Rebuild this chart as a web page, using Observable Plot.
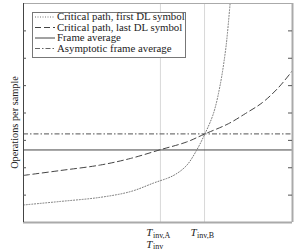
<!DOCTYPE html>
<html>
<head>
<meta charset="utf-8">
<script src="https://cdn.jsdelivr.net/npm/d3@7"></script>
<script src="https://cdn.jsdelivr.net/npm/@observablehq/plot@0.6"></script>
<style>
  html, body { margin: 0; padding: 0; background: #fff; }
  #chart { position: relative; width: 306px; height: 250px; }
</style>
</head>
<body>
<div id="chart"></div>
<script>
// ---- data ----
const xDomain = [0, 10];
const yDomain = [0, 8];
const yTicks = [1, 2, 3, 4, 5, 6, 7];

const firstX = [0, 1.38, 2.86, 3.98, 4.83, 5.58, 6.06, 6.43, 6.73, 7.06, 7.32, 7.51, 7.58, 7.68, 7.72];
const firstY = [0.64, 0.77, 0.92, 1.13, 1.44, 1.72, 2.08, 2.63, 3.21, 3.98, 5.07, 6.28, 6.90, 7.99, 8.4];

const lastX = [0, 1.38, 2.86, 3.98, 5.09, 6.06, 6.73, 7.62, 8.25, 8.88, 9.48, 10];
const lastY = [1.72, 1.90, 2.10, 2.34, 2.66, 2.94, 3.23, 3.61, 3.98, 4.38, 4.93, 5.55];

const frameAverage = 2.65;
const asymptoticAverage = 3.24;

const tInvA = 5.09;
const tInvB = 6.73;
const xLabels = [
  {x: tInvA, main: "T", sub: "inv,A", line: 0},
  {x: tInvB, main: "T", sub: "inv,B", line: 0},
  {x: tInvA, main: "T", sub: "inv", line: 1}
];

const legendItems = [
  {label: "Critical path, first DL symbol", dash: "1,1.5", stroke: "#777"},
  {label: "Critical path, last DL symbol", dash: "6,3", stroke: "#444"},
  {label: "Frame average", dash: null, stroke: "#444"},
  {label: "Asymptotic frame average", dash: "5,2,1.5,2", stroke: "#666"}
];

const first = firstX.map((x, i) => ({x, y: firstY[i]}));
const last = lastX.map((x, i) => ({x, y: lastY[i]}));

const font = "'Liberation Serif', 'Times New Roman', serif";

const plot = Plot.plot({
  width: 306,
  height: 250,
  marginLeft: 23,
  marginRight: 14,
  marginTop: 3,
  marginBottom: 28,
  style: {fontFamily: font, background: "#fff"},
  x: {domain: xDomain, axis: null},
  y: {domain: yDomain, axis: null},
  marks: [
    Plot.ruleX([tInvA, tInvB], {stroke: "#d8d8d8", strokeWidth: 1}),
    Plot.ruleY([asymptoticAverage], {stroke: "#777", strokeWidth: 1.3, strokeDasharray: "5,2,1.5,2"}),
    Plot.ruleY([frameAverage], {stroke: "#444", strokeWidth: 1}),
    Plot.line(last, {x: "x", y: "y", curve: "catmull-rom", stroke: "#444", strokeWidth: 1, strokeDasharray: "6,3.5", clip: true}),
    Plot.line(first, {x: "x", y: "y", curve: "catmull-rom", stroke: "#777", strokeWidth: 1, strokeDasharray: "1,1.8", clip: true}),
    // frame
    Plot.ruleY([yDomain[1]], {stroke: "#aaa", strokeWidth: 1}),
    Plot.ruleY([yDomain[0]], {stroke: "#aaa", strokeWidth: 2}),
    Plot.ruleX([xDomain[1]], {stroke: "#aaa", strokeWidth: 2}),
    Plot.ruleX([xDomain[0]], {stroke: "#444", strokeWidth: 1}),
    // inward ticks
    Plot.tickY(yTicks, {y: d => d, stroke: "#555", insetRight: 266}),
    Plot.tickY(yTicks, {y: d => d, stroke: "#555", insetLeft: 265}),
    // y label
    Plot.text(["Operations per sample"], {frameAnchor: "left", rotate: -90, textAnchor: "middle", lineAnchor: "bottom",
      dx: -6, dy: 9.5, fontSize: 10.3, fill: "#222"})
  ]
});

document.getElementById("chart").appendChild(plot);

const svg = d3.select(plot);
const xs = plot.scale("x");

// x labels: italic T with upright subscript
const lab = svg.append("g").attr("font-family", font).attr("fill", "#222");
xLabels.forEach(item => {
  const px = xs.apply(item.x) - 7.5;
  const baseY = 236 + item.line * 11.5;
  lab.append("text").attr("x", px).attr("y", baseY)
    .attr("text-anchor", "end").attr("font-style", "italic").attr("font-size", 11)
    .text(item.main);
  lab.append("text").attr("x", px + 0.5).attr("y", baseY + 1.5)
    .attr("text-anchor", "start").attr("font-size", 8)
    .text(item.sub);
});

// legend
const lg = svg.append("g").attr("font-family", font);
lg.append("rect").attr("x", 32.5).attr("y", 12.5).attr("width", 153).attr("height", 45)
  .attr("fill", "#fff").attr("stroke", "#777").attr("stroke-width", 1);
legendItems.forEach((it, i) => {
  const cy = 17 + i * 10.5;
  lg.append("line").attr("x1", 35).attr("x2", 55).attr("y1", cy).attr("y2", cy)
    .attr("stroke", it.stroke).attr("stroke-width", 1)
    .attr("stroke-dasharray", it.dash);
  lg.append("text").attr("x", 57).attr("y", cy + 3.4)
    .attr("text-anchor", "start")
    .attr("font-size", 10.8).attr("fill", "#222")
    .text(it.label);
});
</script>
</body>
</html>
